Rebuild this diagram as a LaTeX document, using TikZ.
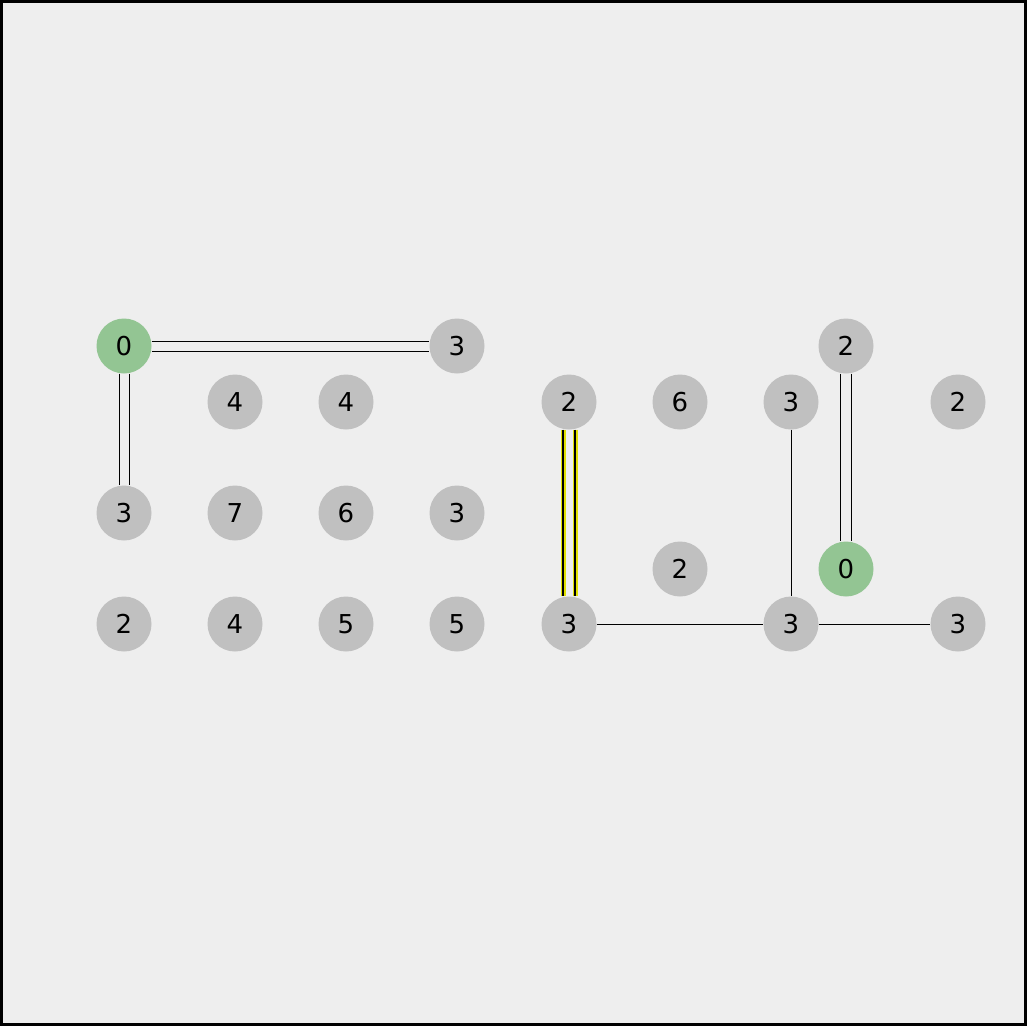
\documentclass[tikz,border=0pt]{standalone}
\usepackage{fontspec}
\setmainfont{DejaVu Sans}
\definecolor{bgc}{HTML}{EEEEEE}
\definecolor{nodegray}{HTML}{C0C0C0}
\definecolor{nodegreen}{HTML}{93C593}
\definecolor{hl}{HTML}{E0E000}
\begin{document}
\begin{tikzpicture}[x=1pt,y=-1pt,
  cell/.style={circle,fill=nodegray,minimum size=55pt,inner sep=0pt,font=\fontsize{26}{26}\selectfont},
  goal/.style={cell,fill=nodegreen},
  edge/.style={line width=1pt,black},
  hledge/.style={line width=5pt,hl}]
\fill[bgc] (0,0) rectangle (1027,1026);
\draw[line width=3pt] (1.5,1.5) rectangle (1025.5,1024.5);
\useasboundingbox (0,0) rectangle (1027,1026);
% row 346
\node[goal] (a1) at (124,346) {0};
\node[cell] (a4) at (457,346) {3};
\node[cell] (a8) at (846,346) {2};
% row 402
\node[cell] (b2) at (235,402) {4};
\node[cell] (b3) at (346,402) {4};
\node[cell] (b5) at (569,402) {2};
\node[cell] (b6) at (680,402) {6};
\node[cell] (b7) at (791,402) {3};
\node[cell] (b9) at (958,402) {2};
% row 513
\node[cell] (c1) at (124,513) {3};
\node[cell] (c2) at (235,513) {7};
\node[cell] (c3) at (346,513) {6};
\node[cell] (c4) at (457,513) {3};
% row 569
\node[cell] (d6) at (680,569) {2};
\node[goal] (d8) at (846,569) {0};
% row 624
\node[cell] (e1) at (124,624) {2};
\node[cell] (e2) at (235,624) {4};
\node[cell] (e3) at (346,624) {5};
\node[cell] (e4) at (457,624) {5};
\node[cell] (e5) at (569,624) {3};
\node[cell] (e7) at (791,624) {3};
\node[cell] (e9) at (958,624) {3};
% double edges
\draw[edge] ([yshift=-5]a1.east) -- ([yshift=-5]a4.west);
\draw[edge] ([yshift=5]a1.east) -- ([yshift=5]a4.west);
\draw[edge] ([xshift=-5]a1.south) -- ([xshift=-5]c1.north);
\draw[edge] ([xshift=5]a1.south) -- ([xshift=5]c1.north);
\draw[edge] ([xshift=-5.5]a8.south) -- ([xshift=-5.5]d8.north);
\draw[edge] ([xshift=5.5]a8.south) -- ([xshift=5.5]d8.north);
% highlighted double edge
\draw[hledge] ([xshift=-6]b5.south) -- ([xshift=-6]e5.north);
\draw[hledge] ([xshift=6]b5.south) -- ([xshift=6]e5.north);
\draw[edge,line width=1.5pt] ([xshift=-6]b5.south) -- ([xshift=-6]e5.north);
\draw[edge,line width=1.5pt] ([xshift=6]b5.south) -- ([xshift=6]e5.north);
% single edges
\draw[edge] (b7) -- (e7);
\draw[edge] (e5) -- (e7);
\draw[edge] (e7) -- (e9);
\end{tikzpicture}
\end{document}
